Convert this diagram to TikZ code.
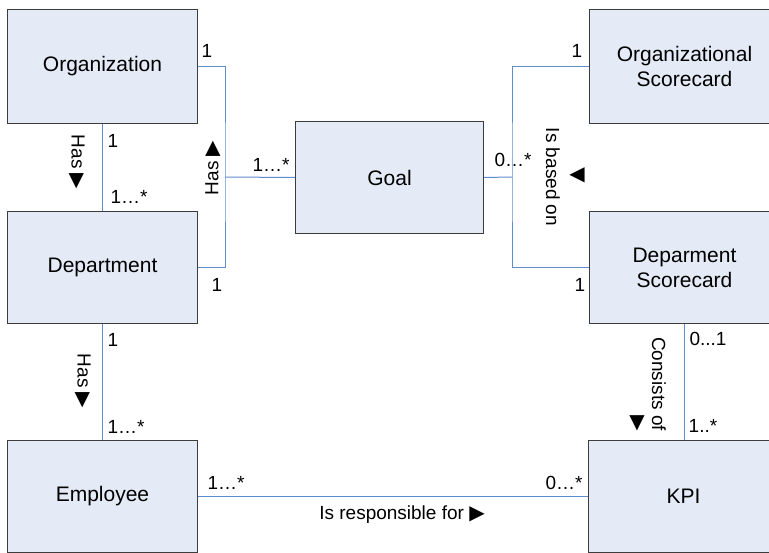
\documentclass[tikz,border=0pt]{standalone}
\usepackage{fontspec}
\setmainfont{Liberation Sans}
\newfontfamily\symfont{DejaVu Sans}
\newcommand{\tri}[1]{{\symfont\fontsize{20}{22}\selectfont #1}}
\definecolor{boxfill}{RGB}{229,235,246}
\definecolor{boxline}{RGB}{60,60,60}
\definecolor{conn}{RGB}{95,140,205}
\begin{document}
\begin{tikzpicture}[x=1pt,y=-1pt,
  box/.style={draw=boxline,line width=1pt,fill=boxfill,anchor=north west,minimum width=190pt,align=center,inner sep=0pt,font=\fontsize{21}{25}\selectfont},
  link/.style={draw=conn,line width=1pt},
  lbl/.style={inner sep=0pt,font=\fontsize{19}{22}\selectfont}]
\useasboundingbox (0,0) rectangle (769,552);
\clip (0,0) rectangle (769,552);
\node[box,minimum height=114pt] (org) at (7,9) {Organization};
\node[box,minimum height=112pt] (dept) at (7,211) {Department};
\node[box,minimum height=112pt] (emp) at (7,440) {Employee};
\node[box,minimum width=188pt,minimum height=112pt] (goal) at (295,121) {Goal};
\node[box,minimum height=114pt] (orgsc) at (589,9) {Organizational\\Scorecard};
\node[box,minimum height=112pt] (deptsc) at (589,211) {Deparment\\Scorecard};
\node[box,minimum height=112pt] (kpi) at (588,440) {KPI};
\coordinate (j1) at (225,177);
\coordinate (j2) at (512,177);
\draw[link] (org.east) -| (j1) |- (dept.east);
\draw[link] (j1) -- (goal.west);
\draw[link] (orgsc.west) -| (j2) |- (deptsc.west);
\draw[link] (goal.east) -- (j2);
\draw[link] (org.south) -- (dept.north);
\draw[link] (dept.south) -- (emp.north);
\draw[link] (deptsc.south) -- (deptsc.south |- kpi.north);
\draw[link] (emp.east) -- (kpi.west);
% labels
\node[lbl] (l1) at (207,51) {1};
\node[lbl] (l2) at (217,285) {1};
\node[lbl] (l3) at (271,165) {1…*};
\node[lbl,rotate=90] (l4) at (213,168) {Has \tri{▶}};
\node[lbl,rotate=-90] (l5) at (77,162) {Has \tri{▶}};
\node[lbl] (l6) at (113,141) {1};
\node[lbl] (l7) at (129,197) {1…*};
\node[lbl] (l8) at (113,340) {1};
\node[lbl,rotate=-90] (l9) at (83,381) {Has \tri{▶}};
\node[lbl] (l10) at (126,427) {1…*};
\node[lbl] (l11) at (577,51) {1};
\node[lbl] (l12) at (580,285) {1};
\node[lbl] (l13) at (513,160) {0…*};
\node[lbl,rotate=-90] (l14) at (553,177) {Is based on};
\node[lbl] (l15) at (577,175) {\tri{◀}};
\node[lbl,rotate=-90] (l16) at (659,384) {Consists of};
\node[lbl] (l17) at (637,423) {\tri{▼}};
\node[lbl] (l18) at (708,339) {0...1};
\node[lbl] (l19) at (703,426) {1..*};
\node[lbl] (l20) at (226,483) {1…*};
\node[lbl] (l21) at (564,483) {0…*};
\node[lbl] (l22) at (402,515) {Is responsible for \tri{▶}};
\end{tikzpicture}
\end{document}
